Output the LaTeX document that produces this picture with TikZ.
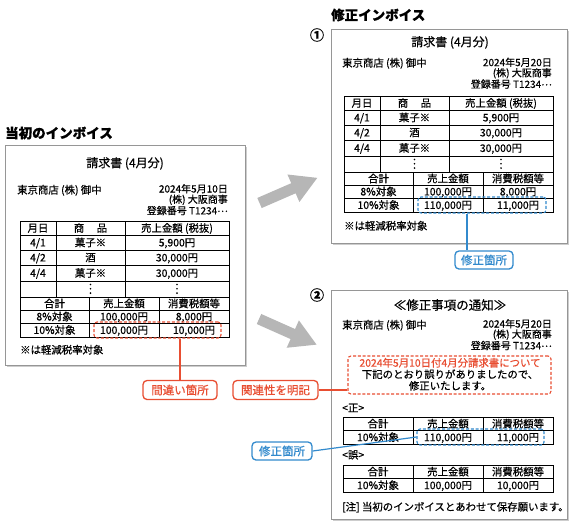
\documentclass[tikz,border=0pt]{standalone}
\usepackage{fontspec}
\setmainfont{Noto Sans CJK JP}[FakeBold=0.6]
\usetikzlibrary{shadows}
\definecolor{accred}{RGB}{232,78,50}
\definecolor{accblue}{RGB}{50,138,205}
\definecolor{arrowgray}{RGB}{182,182,182}
\definecolor{panelline}{RGB}{150,150,150}
\definecolor{panelshadow}{RGB}{205,205,205}
\newcommand{\midell}{\raisebox{2.5pt}{…}}
\tikzset{
  tbl/.style={line width=0.85pt, black},
  txt/.style={inner sep=0pt, font=\fontsize{10.4}{12}\selectfont, text height=8.6pt, text depth=1.2pt},
  tight/.style={inner sep=0pt, font=\fontsize{10}{11}\selectfont, text height=7.8pt, text depth=0.8pt},
  ttl/.style={inner sep=0pt, font=\fontsize{12}{14}\selectfont, text height=10pt, text depth=1.4pt},
  head/.style={inner sep=0pt, font=\bfseries\fontsize{13.5}{15}\selectfont},
  panel/.style={draw=panelline, line width=0.8pt, fill=white, inner sep=0pt, anchor=north west,
    drop shadow={shadow xshift=1.8pt, shadow yshift=-1.8pt, fill=panelshadow, opacity=1}},
  tag/.style={draw, rounded corners=4pt, line width=1.3pt, fill=white, inner sep=0pt,
    minimum height=19pt, font=\fontsize{11.5}{13}\selectfont},
  dashbox/.style={draw, rounded corners=3pt, line width=1.1pt, dash pattern=on 3pt off 1.8pt, inner sep=0pt},
  link/.style={line width=1.2pt},
}
\newcommand{\invtable}[5]{%
  \begin{scope}[shift={(#2,#3)}]
    \draw[tbl] (0,0) rectangle (209,116);
    \foreach \yy in {14,29,44,60,76,89,102} {\draw[tbl] (0,\yy) -- (209,\yy);}
    \draw[tbl] (36,0) -- (36,76);
    \draw[tbl] (105,0) -- (105,76);
    \draw[tbl] (69,76) -- (69,116);
    \draw[tbl] (139,76) -- (139,116);
    \node[txt] (#1a0) at (18,7.2) {月日};
    \node[txt] (#1b0) at (70.5,7.2) {商\hspace{1.2em}品};
    \node[txt] (#1c0) at (157,7.2) {売上金額 (税抜)};
    \node[txt] (#1a1) at (18,21.7) {4/1};
    \node[txt] (#1b1) at (70.5,21.7) {菓子※};
    \node[txt] (#1c1) at (157,21.7) {5,900円};
    \node[txt] (#1a2) at (18,36.7) {4/2};
    \node[txt] (#1b2) at (70.5,36.7) {酒};
    \node[txt] (#1c2) at (157,36.7) {30,000円};
    \node[txt] (#1a3) at (18,52.2) {4/4};
    \node[txt] (#1b3) at (70.5,52.2) {菓子※};
    \node[txt] (#1c3) at (157,52.2) {30,000円};
    \foreach \xx in {70.5,157} {\foreach \dd in {63.5,67.8,72.1} {\fill (\xx,\dd) circle (0.9);}}
    \node[txt] (#1s0) at (34.5,82.7) {合計};
    \node[txt] (#1t0) at (104,82.7) {売上金額};
    \node[txt] (#1u0) at (174,82.7) {消費税額等};
    \node[txt] (#1s1) at (34.5,95.7) {8\%対象};
    \node[txt] (#1t1) at (104,95.7) {100,000円};
    \node[txt] (#1u1) at (174,95.7) {8,000円};
    \node[txt] (#1s2) at (34.5,109.2) {10\%対象};
    \node[txt] (#1t2) at (104,109.2) {#4};
    \node[txt] (#1u2) at (174,109.2) {#5};
  \end{scope}}
\newcommand{\sumtable}[4]{%
  \begin{scope}[shift={(343,#2)}]
    \draw[tbl] (0,0) rectangle (210,27);
    \draw[tbl] (0,13.5) -- (210,13.5);
    \draw[tbl] (70,0) -- (70,27);
    \draw[tbl] (140,0) -- (140,27);
    \node[txt] (#1s0) at (35,6.9) {合計};
    \node[txt] (#1t0) at (105,6.9) {売上金額};
    \node[txt] (#1u0) at (175,6.9) {消費税額等};
    \node[txt] (#1s1) at (35,20.4) {10\%対象};
    \node[txt] (#1t1) at (105,20.4) {#3};
    \node[txt] (#1u1) at (175,20.4) {#4};
  \end{scope}}
\begin{document}
\begin{tikzpicture}[x=1pt, y=-1pt]
\useasboundingbox (0,0) rectangle (575,528);

% ---------- titles ----------
\node[head, anchor=west] (ttlA) at (5,133) {当初のインボイス};
\node[head, anchor=west] (ttlB) at (331,15) {修正インボイス};
\node[inner sep=0pt, font=\bfseries\fontsize{14}{14}\selectfont] (num1) at (317,35) {①};
\node[inner sep=0pt, font=\bfseries\fontsize{14}{14}\selectfont] (num2) at (317,295) {②};

% ---------- panels ----------
\node[panel, minimum width=240pt, minimum height=220pt] (lpanel) at (5,145) {};
\node[panel, minimum width=236pt, minimum height=214pt] (tpanel) at (331,29) {};
\node[panel, minimum width=236pt, minimum height=229pt] (bpanel) at (331,290) {};

% ---------- gray arrows ----------
\begin{scope}[shift={(259.5,203)}, rotate=23.5]
  \fill[arrowgray] (0,-5.5) -- (37,-5.5) -- (37,-15) -- (63,0) -- (37,15) -- (37,5.5) -- (0,5.5) -- cycle;
\end{scope}
\begin{scope}[shift={(259,319)}, rotate=-24]
  \fill[arrowgray] (0,-5.5) -- (37,-5.5) -- (37,-15) -- (63,0) -- (37,15) -- (37,5.5) -- (0,5.5) -- cycle;
\end{scope}

% ---------- left invoice ----------
\node[ttl] (lhead) at (125,163) {請求書 (4月分)};
\node[txt, anchor=west] (lto) at (17,190) {東京商店 (株) 御中};
\node[tight, anchor=east] (ldate) at (228,189) {2024年5月10日};
\node[tight, anchor=east] (lfrom) at (228,199.5) {(株) 大阪商事};
\node[tight, anchor=east] (lreg) at (228,210.9) {登録番号 T1234\midell};
\invtable{L}{20}{221}{100,000円}{10,000円}
\node[txt, anchor=west] (lnote) at (20,350) {※は軽減税率対象};

% ---------- top right invoice ----------
\node[ttl] (thead) at (450,42) {請求書 (4月分)};
\node[txt, anchor=west] (tto) at (342,63) {東京商店 (株) 御中};
\node[tight, anchor=east] (tdate) at (552,62.6) {2024年5月20日};
\node[tight, anchor=east] (tfrom) at (552,73) {(株) 大阪商事};
\node[tight, anchor=east] (treg) at (552,84.4) {登録番号 T1234\midell};
\invtable{R}{344}{96}{110,000円}{11,000円}
\node[txt, anchor=west] (tnote) at (344,226) {※は軽減税率対象};

% ---------- bottom right notice ----------
\node[inner sep=0pt, font=\fontsize{12.5}{14}\selectfont] (bhead) at (450,305) {≪修正事項の通知≫};
\node[txt, anchor=west] (bto) at (342,325) {東京商店 (株) 御中};
\node[tight, anchor=east] (bdate) at (552,324) {2024年5月20日};
\node[tight, anchor=east] (bfrom) at (552,334.4) {(株) 大阪商事};
\node[tight, anchor=east] (breg) at (552,345.8) {登録番号 T1234\midell};
\node[txt, text=accred] (bl1) at (450,363) {2024年5月10日付4月分請求書について};
\node[txt] (bl2) at (450,374.5) {下記のとおり誤りがありましたので、};
\node[txt] (bl3) at (450,386) {修正いたします。};
\node[txt, anchor=west] (bok) at (342,408) {<正>};
\sumtable{C}{417}{110,000円}{11,000円}
\node[txt, anchor=west] (bng) at (342,455) {<誤>};
\sumtable{W}{465}{100,000円}{10,000円}
\node[txt, anchor=west] (bfoot) at (342,507) {[注] 当初のインボイスとあわせて保存願います。};

% ---------- dashed highlight boxes ----------
\node[dashbox, draw=accred, minimum width=127pt, minimum height=16pt] (ldash) at (157.5,330) {};
\node[dashbox, draw=accblue, minimum width=128pt, minimum height=16pt] (bdash1) at (482,205) {};
\node[dashbox, draw=accred, minimum width=203pt, minimum height=38pt] (rdash) at (449.5,375) {};
\node[dashbox, draw=accblue, minimum width=127pt, minimum height=16pt] (bdash2) at (480.5,437) {};

% ---------- tags ----------
\node[tag, draw=accred, text=accred, minimum width=74pt] (lab1) at (180,390) {間違い箇所};
\node[tag, draw=accred, text=accred, minimum width=85pt] (lab2) at (275.5,390) {関連性を明記};
\node[tag, draw=accblue, text=accblue, minimum width=58pt, minimum height=18pt] (lab3) at (484,260) {修正箇所};
\node[tag, draw=accblue, text=accblue, minimum width=60pt, minimum height=18pt] (lab4) at (282,451) {修正箇所};

% ---------- connectors ----------
\coordinate (tap) at (467,0);
\draw[link, accred] (ldash.south -| lab1.north) -- (lab1.north);
\draw[link, accred] (lab2.east) -- (lab2.east -| rdash.west);
\draw[link, accblue] (bdash1.south -| tap) -- (lab3.north -| tap);
\draw[link, accblue] (lab4.east) -- (bdash2.west);
\end{tikzpicture}
\end{document}
